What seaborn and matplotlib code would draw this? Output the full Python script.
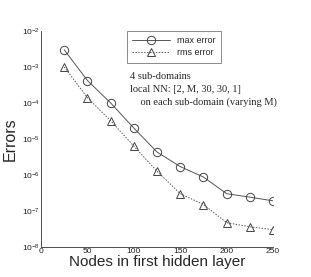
import matplotlib
matplotlib.use("Agg")
import matplotlib.pyplot as plt
import seaborn as sns
import numpy as np
import pandas as pd
from matplotlib.ticker import LogLocator, MultipleLocator, NullFormatter

nodes = [25, 50, 75, 100, 125, 150, 175, 200, 225, 250]
max_error = [3.0e-3, 4.2e-4, 1.0e-4, 2.0e-5, 4.3e-6, 1.7e-6, 8.7e-7, 3.0e-7, 2.4e-7, 1.9e-7]
rms_error = [1.0e-3, 1.4e-4, 3.2e-5, 6.3e-6, 1.26e-6, 3.0e-7, 1.5e-7, 4.7e-8, 3.6e-8, 3.0e-8]
series_names = ["max error", "rms error"]
x_label = "Nodes in first hidden layer"
y_label = "Errors"
note_lines = ["4 sub-domains", "local NN: [2, M, 30, 30, 1]", "    on each sub-domain (varying M)"]

df = pd.DataFrame({
    "nodes": nodes * 2,
    "error": max_error + rms_error,
    "series": [series_names[0]] * len(nodes) + [series_names[1]] * len(nodes),
})

sns.set_style("white")
plt.rcParams["font.family"] = ["Liberation Sans", "DejaVu Sans"]

fig = plt.figure(figsize=(3.11, 2.77), dpi=100)
ax = fig.add_axes([0.132, 0.109, 0.746, 0.779])

sns.lineplot(data=df, x="nodes", y="error", hue="series", style="series",
             markers={"max error": "o", "rms error": "^"},
             dashes={"max error": "", "rms error": (1.5, 1.5)},
             palette={"max error": "#555555", "rms error": "#555555"},
             markersize=6, markerfacecolor="none", markeredgecolor="#444444",
             markeredgewidth=0.7, linewidth=0.7, ax=ax, legend=True)

ax.set_yscale("log")
ax.set_xlim(0, 250)
ax.set_ylim(1e-8, 1e-2)
ax.xaxis.set_major_locator(MultipleLocator(50))
ax.xaxis.set_minor_locator(MultipleLocator(10))
ax.yaxis.set_major_locator(LogLocator(base=10, numticks=10))
ax.yaxis.set_minor_locator(LogLocator(base=10, subs=np.arange(2, 10), numticks=20))
ax.yaxis.set_minor_formatter(NullFormatter())
ax.tick_params(axis="both", which="major", direction="in", length=4, width=0.6,
               labelsize=6, pad=1, colors="#222222")
ax.tick_params(axis="both", which="minor", direction="in", length=2, width=0.5)
for s in ["top", "right"]:
    ax.spines[s].set_visible(False)
for s in ["left", "bottom"]:
    ax.spines[s].set_linewidth(0.6)
    ax.spines[s].set_color("#333333")

ax.set_xlabel(x_label, fontsize=11, labelpad=0)
ax.set_ylabel(y_label, fontsize=11.5, labelpad=3)

leg = ax.legend(loc="upper left", bbox_to_anchor=(0.37, 1.0), fontsize=6.5,
                frameon=True, fancybox=False, edgecolor="#555555",
                handlelength=4.2, borderpad=0.6, labelspacing=0.3, borderaxespad=0)
leg.get_frame().set_linewidth(0.6)
for h in leg.legend_handles:
    h.set_markerfacecolor("none")
    h.set_markeredgecolor("#444444")
    h.set_markersize(6)

y0 = 0.79
for i, line in enumerate(note_lines):
    ax.text(0.385, y0 - i * 0.06, line, transform=ax.transAxes,
            fontsize=7.5, family=["Liberation Serif", "DejaVu Serif"], va="center")

fig.savefig("out.png", dpi=100)
